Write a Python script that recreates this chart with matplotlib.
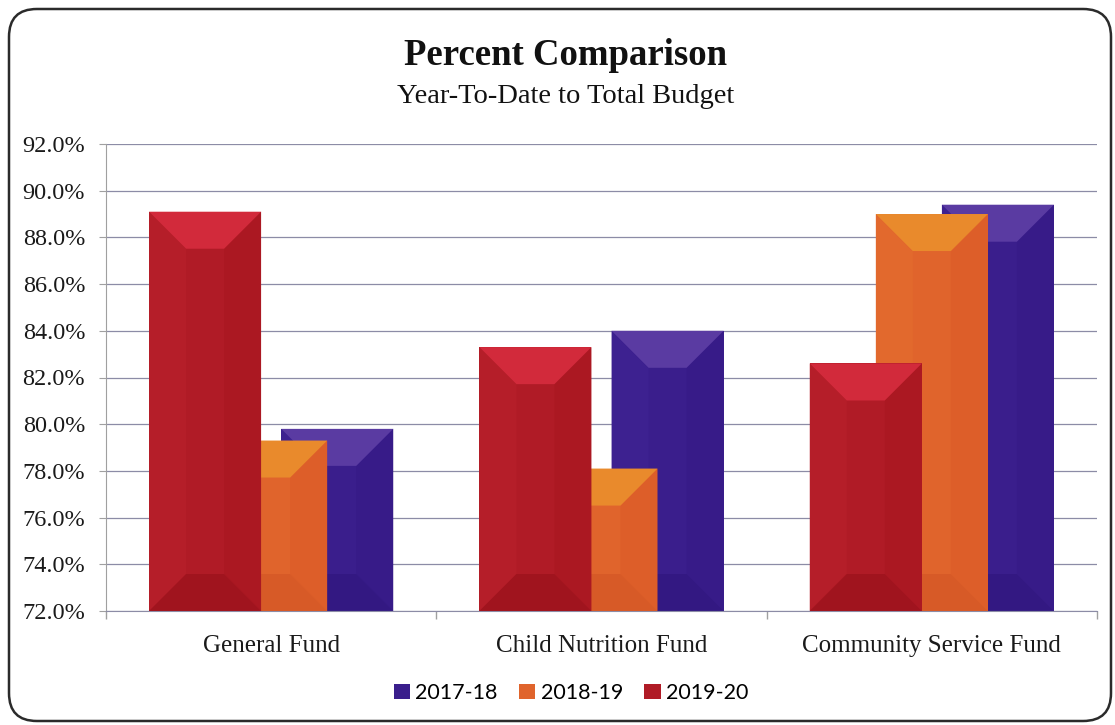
import matplotlib
matplotlib.use("Agg")
import matplotlib.pyplot as plt
from matplotlib.patches import Polygon, FancyBboxPatch, Rectangle
from matplotlib.ticker import FuncFormatter
import matplotlib.markers as mmarkers
import numpy as np

# ---- data ----
categories = ["General Fund", "Child Nutrition Fund", "Community Service Fund"]
series = ["2017-18", "2018-19", "2019-20"]
values_2017_18 = [79.8, 84.0, 89.4]
values_2018_19 = [79.3, 78.1, 89.0]
values_2019_20 = [89.1, 83.3, 82.6]
y_ticks = [72, 74, 76, 78, 80, 82, 84, 86, 88, 90, 92]

# ---- styling ----
palette = {
    "2017-18": dict(base="#3A1E8C", top="#5A3BA2", left="#3D2190", right="#371B88", bottom="#331882"),
    "2018-19": dict(base="#E0642C", top="#E98A2C", left="#E2692D", right="#DD5E29", bottom="#D75A27"),
    "2019-20": dict(base="#B01B26", top="#D22A3B", left="#B51E29", right="#AB1822", bottom="#A0141E"),
}
offsets = {"2017-18": 0.2, "2018-19": 0.0, "2019-20": -0.2}
layer = {"2017-18": 2, "2018-19": 3, "2019-20": 4}
bar_w = 0.339

serif = ["Liberation Serif", "DejaVu Serif"]

fig = plt.figure(figsize=(11.15, 7.25), dpi=100)
fig.patch.set_facecolor("white")

# rounded frame around the chart
frame = FancyBboxPatch((9 / 1115, 4 / 725), 1102 / 1115, 712 / 725,
                       boxstyle="round,pad=0,rounding_size=0.025",
                       transform=fig.transFigure, fill=False,
                       edgecolor="#2b2b2b", linewidth=1.8, mutation_aspect=1115 / 725)
fig.add_artist(frame)

ax = fig.add_axes([106 / 1115, 1 - 611 / 725, (1097 - 106) / 1115, (611 - 144) / 725])
ax.set_xlim(-0.5, 2.5)
ax.set_ylim(72, 92)

x = np.arange(len(categories))
data = {"2017-18": values_2017_18, "2018-19": values_2018_19, "2019-20": values_2019_20}

# pixel -> data conversion for the bevel depth
p0 = ax.transData.transform((0, 72))
p1 = ax.transData.transform((1, 73))
px_per_x = p1[0] - p0[0]
px_per_y = p1[1] - p0[1]
bevel_px = 37
bx = bevel_px / px_per_x
by = bevel_px / px_per_y

for name in ["2017-18", "2018-19", "2019-20"]:
    c = palette[name]
    vals = data[name]
    bars = ax.bar(x + offsets[name], [v - 72 for v in vals], bottom=72, width=bar_w,
                  color=c["base"], zorder=layer[name], label=name, linewidth=0)
    for rect in bars:
        x0 = rect.get_x()
        x1 = x0 + rect.get_width()
        y0 = rect.get_y()
        y1 = y0 + rect.get_height()
        z = layer[name] + 0.1
        faces = [
            ([(x0, y0), (x0 + bx, y0 + by), (x0 + bx, y1 - by), (x0, y1)], c["left"]),
            ([(x1, y0), (x1 - bx, y0 + by), (x1 - bx, y1 - by), (x1, y1)], c["right"]),
            ([(x0, y0), (x1, y0), (x1 - bx, y0 + by), (x0 + bx, y0 + by)], c["bottom"]),
            ([(x0, y1), (x1, y1), (x1 - bx, y1 - by), (x0 + bx, y1 - by)], c["top"]),
        ]
        for pts, col in faces:
            ax.add_patch(Polygon(pts, closed=True, facecolor=col, edgecolor="none", zorder=z))

# grid and axes
ax.set_yticks(y_ticks)
ax.yaxis.set_major_formatter(FuncFormatter(lambda v, _: f"{v:.1f}%"))
ax.grid(axis="y", color="#8C8CA6", linewidth=0.9, zorder=0)
ax.set_axisbelow(True)
for s in ["top", "right"]:
    ax.spines[s].set_visible(False)
ax.spines["left"].set_color("#a0a0a0")
ax.spines["bottom"].set_color("#8C8CA6")
ax.tick_params(axis="y", length=5, color="#a0a0a0", pad=10)
ax.tick_params(axis="x", length=0, pad=17)
ax.set_xticks(x)
ax.set_xticklabels(categories)
# category boundary ticks below the axis
ax.plot([-0.5, 0.5, 1.5, 2.5], [72] * 4, linestyle="none", marker=mmarkers.TICKDOWN,
        markersize=6, markeredgewidth=1, color="#a0a0a0", clip_on=False, zorder=1)
for lab in ax.get_yticklabels():
    lab.set_family(serif)
    lab.set_fontsize(17.5)
    lab.set_color("#1a1a1a")
for lab in ax.get_xticklabels():
    lab.set_family(serif)
    lab.set_fontsize(18)
    lab.set_color("#1a1a1a")

# titles
fig.text(566 / 1115, 1 - 65 / 725, "Percent Comparison", ha="center", va="baseline",
         fontsize=26.5, fontweight="bold", family=serif, color="#111111")
fig.text(566 / 1115, 1 - 103 / 725, "Year-To-Date to Total Budget", ha="center", va="baseline",
         fontsize=20.5, family=serif, color="#111111")

# legend
handles = [Rectangle((0, 0), 1, 1, facecolor=palette[n]["base"]) for n in series]
leg = fig.legend(handles, series, loc="center", bbox_to_anchor=(571 / 1115, 1 - 693 / 725),
                 ncol=3, frameon=False, prop={"family": ["Lato", "DejaVu Sans"], "size": 15.5},
                 handlelength=0.75, handleheight=0.75, handletextpad=0.25, columnspacing=1.0)

fig.savefig("out.png", dpi=100, facecolor="white")
